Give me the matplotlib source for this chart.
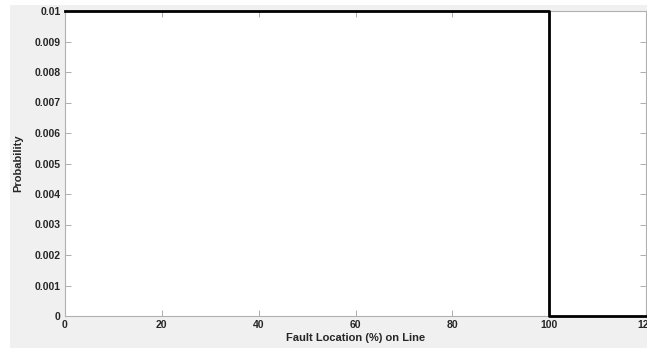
import matplotlib
matplotlib.use("Agg")
import matplotlib.pyplot as plt
from matplotlib.patches import Rectangle

plt.rcParams["font.family"] = ["Liberation Sans", "DejaVu Sans"]

# fault location (%) and probability, uniform up to 100 then zero
location = [0, 100, 100, 120]
probability = [0.01, 0.01, 0, 0]

x_ticks = [0, 20, 40, 60, 80, 100, 120]
y_ticks = [0, 0.001, 0.002, 0.003, 0.004, 0.005, 0.006, 0.007, 0.008, 0.009, 0.01]
y_tick_labels = ["0", "0.001", "0.002", "0.003", "0.004", "0.005",
                 "0.006", "0.007", "0.008", "0.009", "0.01"]

W, H = 647, 350
fig = plt.figure(figsize=(W / 100, H / 100), dpi=100)
fig.patch.set_facecolor("white")

# gray matlab-style figure background (screenshot has a white strip on the left)
fig.patches.append(Rectangle((10 / W, 2 / H), 1, (343 / H), transform=fig.transFigure,
                             facecolor="#f0f0f0", edgecolor="none", zorder=-10))

ax = fig.add_axes([65 / W, (H - 316) / H, (646 - 65) / W, (316 - 11) / H])
ax.set_zorder(1)
ax.set_facecolor("white")

ax.plot(location, probability, color="black", linewidth=2, clip_on=False, zorder=5)

ax.set_xlim(0, 120)
ax.set_ylim(0, 0.01)
ax.set_xticks(x_ticks)
ax.set_yticks(y_ticks)
ax.set_yticklabels(y_tick_labels)

for s in ax.spines.values():
    s.set_color("#b0b0b0")
    s.set_linewidth(0.8)

ax.tick_params(direction="in", top=True, right=True, length=4, width=0.6,
               color="#a0a0a0", labelsize=7.5, labelcolor="#262626", pad=3)
for lbl in ax.get_xticklabels() + ax.get_yticklabels():
    lbl.set_fontweight("bold")

ax.set_xlabel("Fault Location (%) on Line", fontsize=8, fontweight="bold",
              color="#262626", labelpad=2)
ax.set_ylabel("Probability", fontsize=8, fontweight="bold", color="#262626", labelpad=8)

fig.savefig("out.png", dpi=100, facecolor=fig.get_facecolor())
